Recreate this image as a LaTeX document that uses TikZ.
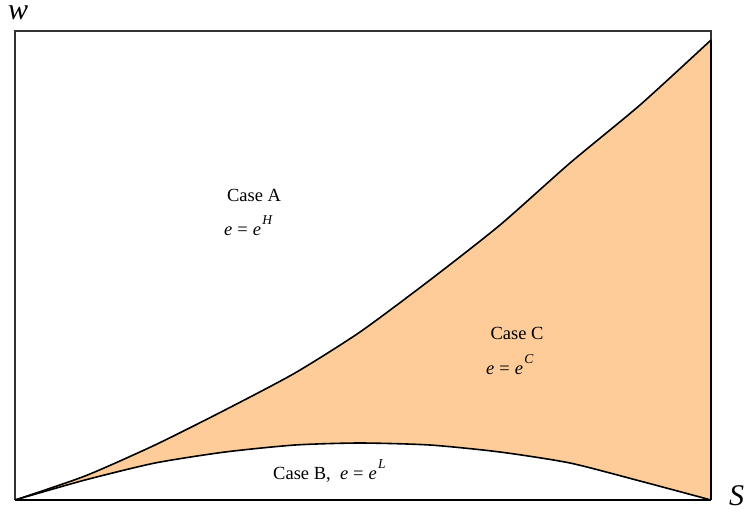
\documentclass[tikz,border=0pt]{standalone}
\usepackage{fontspec}
\setmainfont{Liberation Serif}
\definecolor{peach}{RGB}{253,204,153}
\definecolor{framegray}{RGB}{50,50,50}
\newcommand{\eqsup}[1]{\textit{e}\kern5pt=\kern5pt\textit{e}\kern1.2pt\raisebox{0.58em}{\fontsize{13.5}{13.5}\selectfont\itshape #1}}
\tikzset{
  lbl/.style={font=\fontsize{18.5}{21}\selectfont, inner sep=0pt},
  axlbl/.style={font=\fontsize{30}{31}\selectfont\itshape, inner sep=0pt},
  curve/.style={line width=1.6pt, line join=round},
}
\begin{document}
\begin{tikzpicture}[x=1pt,y=-1pt]
\useasboundingbox (0,0) rectangle (745,512);
% fill between curves
\fill[peach] plot[smooth, tension=0.4] coordinates {(15,500) (85,476) (155,445) (225,410) (295,373) (360,332) (430,280) (500,225) (570,163) (640,105) (711,40)}
  -- (711,500)
  -- plot[smooth, tension=0.4] coordinates {(711,500) (640,481) (570,463) (500,452) (430,445) (360,443) (295,445) (225,452) (155,463) (85,480) (15,500)} -- cycle;
% frame
\draw[framegray, line width=1.2pt] (15,500) -- (15,31) -- (711,31) -- (711,40);
% curves
\draw[curve] plot[smooth, tension=0.4] coordinates {(15,500) (85,476) (155,445) (225,410) (295,373) (360,332) (430,280) (500,225) (570,163) (640,105) (711,40)};
\draw[curve] plot[smooth, tension=0.4] coordinates {(15,500) (85,480) (155,463) (225,452) (295,445) (360,443) (430,445) (500,452) (570,463) (640,481) (711,500)};
\draw[line width=2pt] (711,40) -- (711,500);
\draw[line width=2.6pt] (15,500) -- (711,500);
% labels
\node[axlbl, anchor=base west] (w) at (8,19) {w};
\node[axlbl, anchor=base west] (s) at (729,505) {S};
\node[lbl, anchor=base] (ca) at (254,201) {Case A};
\node[lbl, anchor=base west] (ea) at (224,235) {\eqsup{H}};
\node[lbl, anchor=base] (cc) at (517,339) {Case C};
\node[lbl, anchor=base west] (ec) at (486,374) {\eqsup{C}};
\node[lbl, anchor=base west] (cb) at (273,479) {Case B,\ \ \eqsup{L}};
\end{tikzpicture}
\end{document}
